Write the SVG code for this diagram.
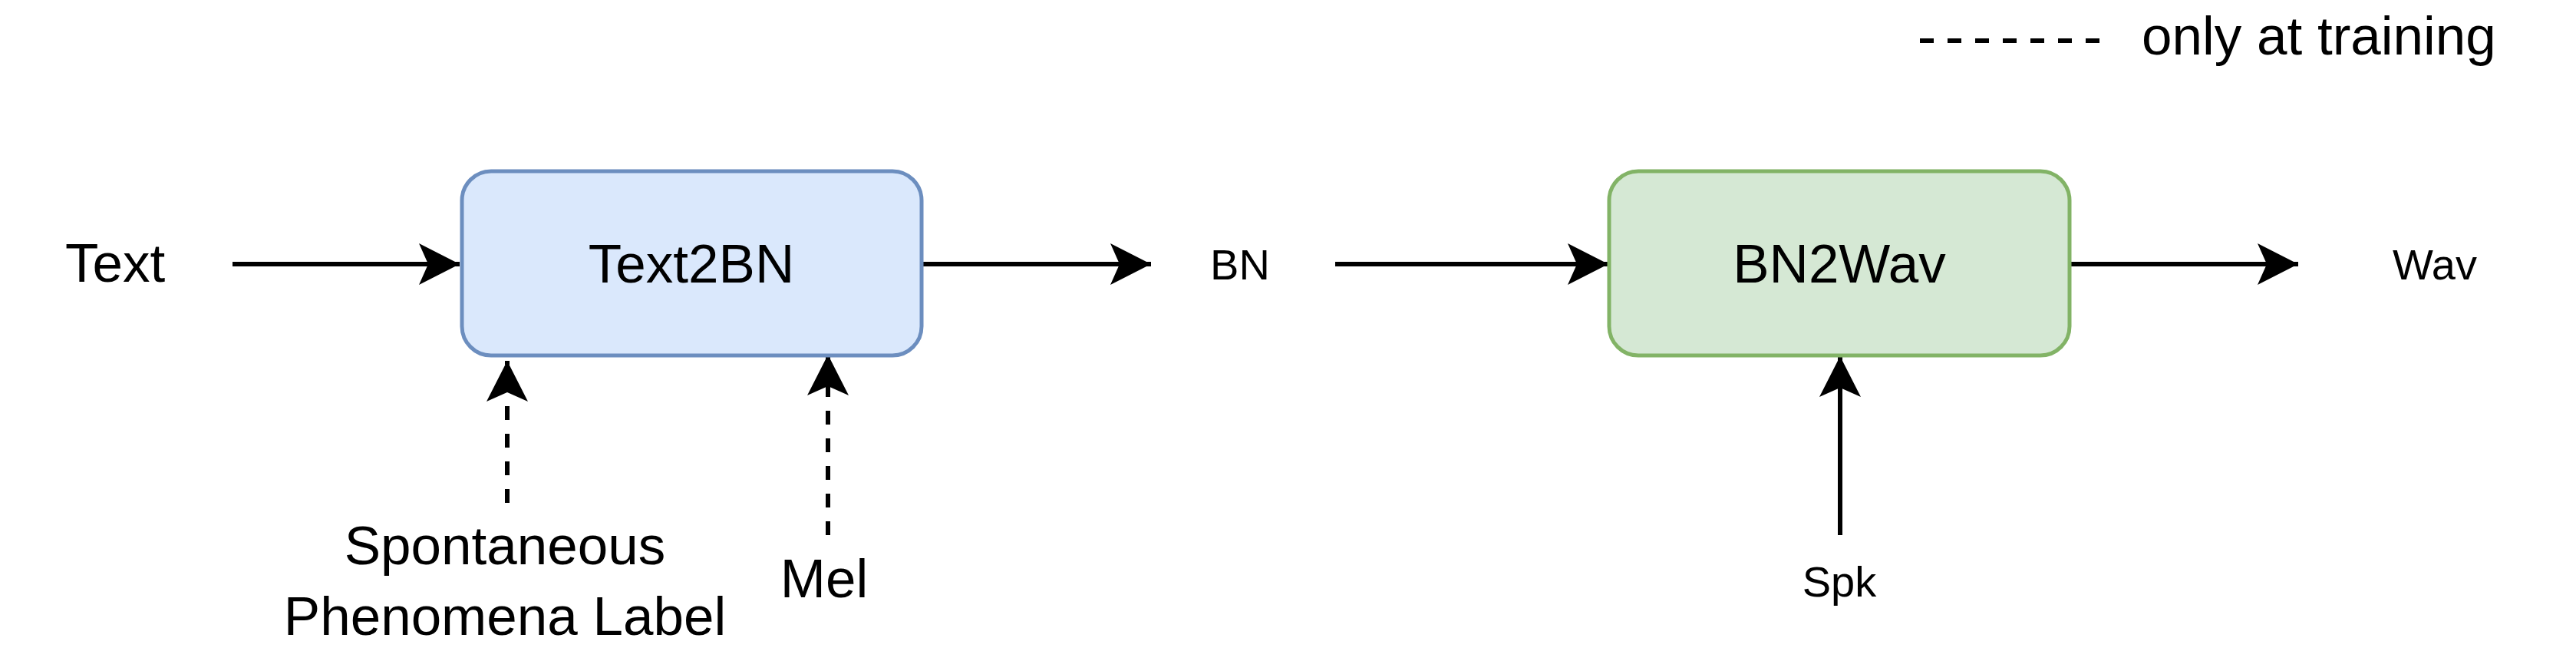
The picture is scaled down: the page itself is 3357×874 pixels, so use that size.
<svg xmlns="http://www.w3.org/2000/svg" width="3357" height="874" viewBox="0 0 3357 874">
<style>
.lbl{font-family:"Liberation Sans",Arial,Helvetica,sans-serif;fill:#000;text-anchor:middle}
.big{font-size:71px}
.small{font-size:56px}
.edge{fill:none;stroke:#000;stroke-width:6}
.dash{stroke-dasharray:18 18}
</style>
<defs>
<marker id="arr" markerUnits="userSpaceOnUse" markerWidth="54" markerHeight="56" viewBox="0 0 54 56" refX="53" refY="28" orient="auto">
<path d="M0,1 L53,28 L0,55 L12,28 Z" fill="#000" stroke="none"/>
</marker>
</defs>
<rect width="3357" height="874" fill="#fff"/>
<g id="connectors">
<line class="edge" x1="303" y1="344" x2="599" y2="344" marker-end="url(#arr)"/>
<line class="edge" x1="1201" y1="344" x2="1500" y2="344" marker-end="url(#arr)"/>
<line class="edge" x1="1740" y1="344" x2="2096" y2="344" marker-end="url(#arr)"/>
<line class="edge" x1="2698" y1="344" x2="2995" y2="344" marker-end="url(#arr)"/>
<line class="edge dash" x1="661" y1="655" x2="661" y2="470" marker-end="url(#arr)"/>
<line class="edge dash" x1="1079" y1="697" x2="1079" y2="462" marker-end="url(#arr)"/>
<line class="edge" x1="2398" y1="697" x2="2398" y2="464" marker-end="url(#arr)"/>
</g>
<g id="text2bn">
<rect x="602" y="223" width="599" height="240" rx="38" ry="38" fill="#dae8fc" stroke="#6c8ebf" stroke-width="5"/>
<text class="lbl big" x="901" y="368">Text2BN</text>
</g>
<g id="bn2wav">
<rect x="2097" y="223" width="600" height="240" rx="38" ry="38" fill="#d5e8d4" stroke="#82b366" stroke-width="5"/>
<text class="lbl big" x="2397" y="368">BN2Wav</text>
</g>
<g id="text-label"><text class="lbl big" x="150" y="367">Text</text></g>
<g id="bn-label"><text class="lbl small" x="1616" y="364">BN</text></g>
<g id="wav-label"><text class="lbl small" x="3173" y="364">Wav</text></g>
<g id="spk-label"><text class="lbl small" x="2397" y="777">Spk</text></g>
<g id="spont-label"><text class="lbl big" x="658" y="735">Spontaneous</text><text class="lbl big" x="658" y="827">Phenomena Label</text></g>
<g id="mel-label"><text class="lbl big" x="1074" y="778">Mel</text></g>
<g id="legend">
<line class="edge dash" x1="2502" y1="53" x2="2736" y2="53"/>
<text class="lbl big" x="2791" y="71" style="text-anchor:start">only at training</text>
</g>
</svg>
